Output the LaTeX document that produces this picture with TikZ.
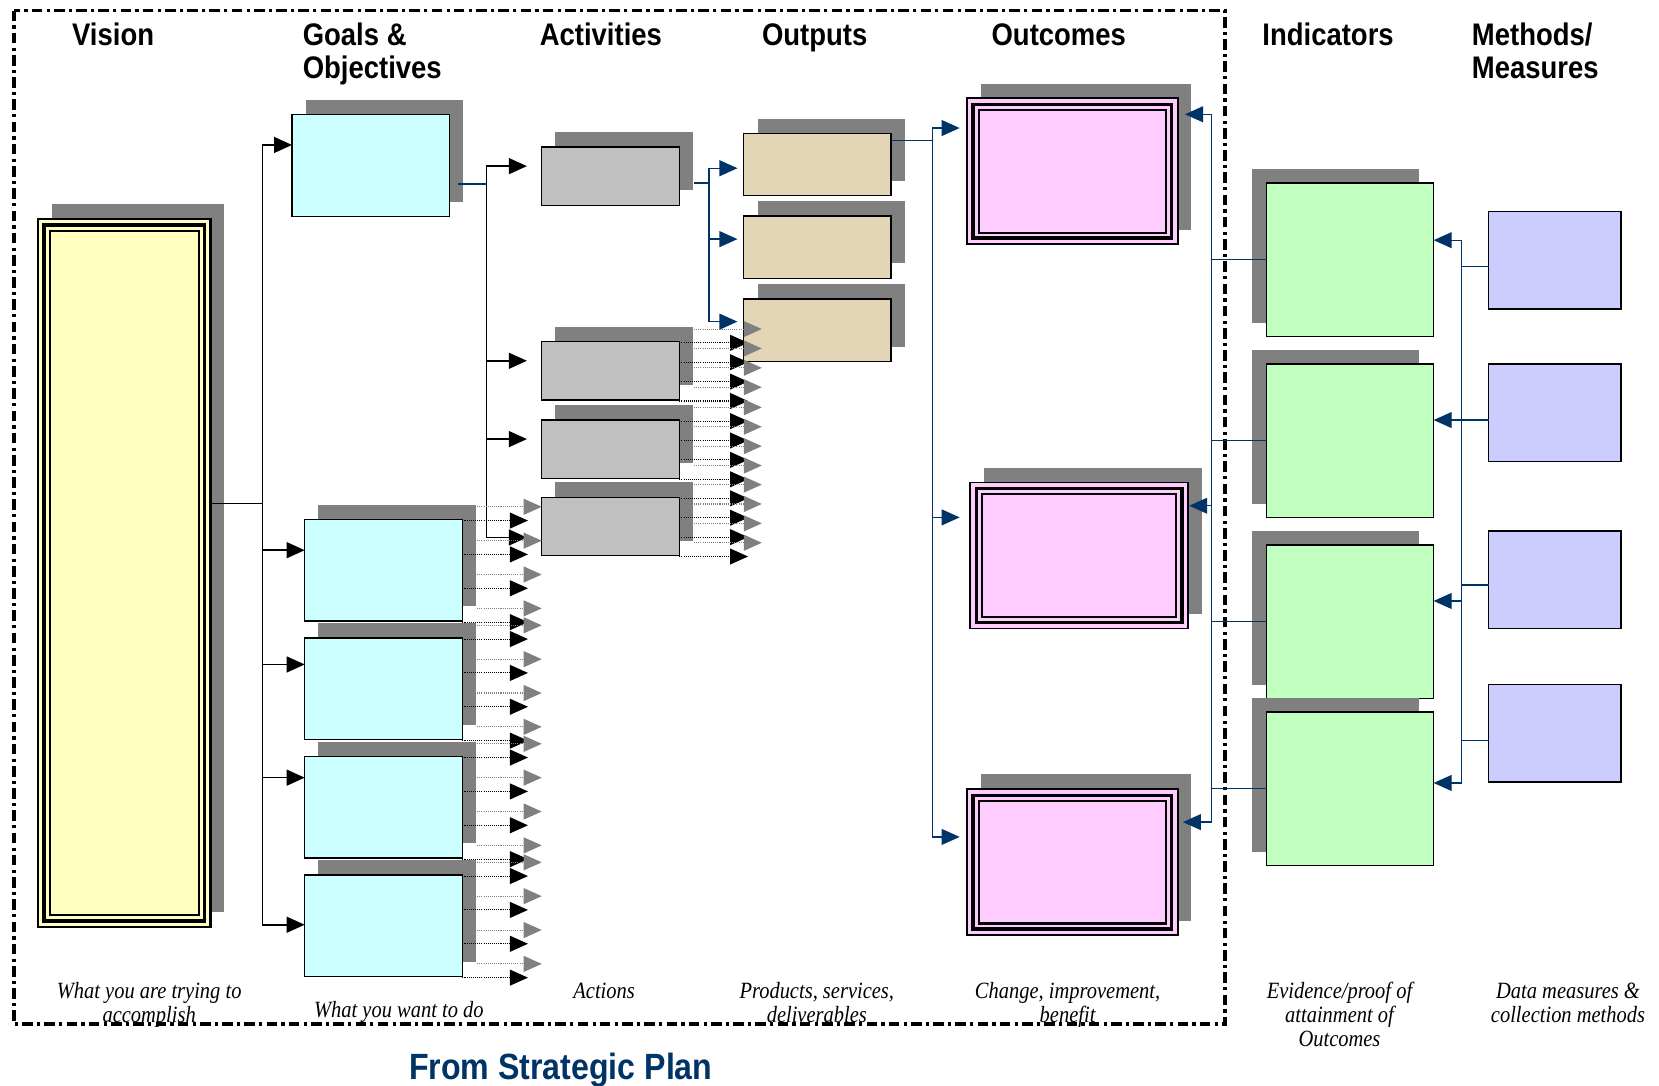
\documentclass[tikz,border=0pt]{standalone}
\usepackage{fontspec}
\setmainfont{Liberation Serif}
\newfontfamily\headfont[FakeStretch=0.88]{Liberation Sans}
\newfontfamily\notefont[FakeStretch=0.88]{Liberation Serif}
\usetikzlibrary{arrows.meta,shadows}
\definecolor{visionfill}{RGB}{255,255,192}
\definecolor{goalfill}{RGB}{204,255,255}
\definecolor{actfill}{RGB}{192,192,192}
\definecolor{outfill}{RGB}{226,214,182}
\definecolor{outcomefill}{RGB}{255,204,255}
\definecolor{indfill}{RGB}{192,255,192}
\definecolor{methfill}{RGB}{204,204,255}
\definecolor{shadowgray}{RGB}{128,128,128}
\definecolor{linkblue}{RGB}{0,51,102}
\begin{document}
\begin{tikzpicture}[x=1pt,y=-1pt,>={Triangle[length=17pt,width=15pt]},line join=miter,
  box/.style={draw=black,line width=1.3pt,inner sep=0pt,outer sep=0pt},
  rshadow/.style={general shadow={fill=shadowgray,shadow xshift=13pt,shadow yshift=14pt}},
  lshadow/.style={general shadow={fill=shadowgray,shadow xshift=-14pt,shadow yshift=13pt}},
  visionbox/.style={box,rshadow,fill=visionfill,line width=2.2pt,minimum width=163pt,minimum height=669pt},
  goalbox/.style={box,rshadow,fill=goalfill,minimum width=149pt,minimum height=96pt},
  actbox/.style={box,rshadow,fill=actfill,minimum width=130pt,minimum height=55pt},
  outbox/.style={box,rshadow,fill=outfill,minimum width=139pt,minimum height=59pt},
  outcomebox/.style={box,rshadow,fill=outcomefill,line width=1.8pt,minimum width=#1,minimum height=138pt},
  indbox/.style={box,lshadow,fill=indfill,minimum width=158pt,minimum height=145pt},
  methbox/.style={box,fill=methfill,minimum width=125pt,minimum height=92pt},
  link/.style={draw=black,line width=1.5pt},
  bluelink/.style={draw=linkblue,line width=1.2pt},
  stub/.style={draw=black,line width=1pt,dash pattern=on 1pt off 1pt},
  stubshade/.style={draw=shadowgray,line width=1pt,dash pattern=on 1pt off 1pt},
  head/.style={font=\headfont\bfseries\fontsize{29.5}{31}\selectfont,inner sep=0pt,anchor=base west,align=left},
  note/.style={font=\notefont\itshape\fontsize{22}{22.5}\selectfont,inner sep=0pt,anchor=base,align=center},
  planframe/.style={line width=3.5pt,dash pattern=on 10pt off 4pt on 3pt off 4pt}]
\useasboundingbox (0,0) rectangle (1568,1026);
%%
  % Frame: strategic plan
  \draw[planframe] (13,10) rectangle (1158,968);
  % Node: Vision
  \node[visionbox] (vis) at (117.5,541.5) {};
  % Node: Goals
  \node[goalbox] (g1) at (350.5,156.5) {};
  \foreach \n/\y in {g2/539,g3/651,g4/763,g5/875}
    \node[goalbox] (\n) at (362.5,\y) {};
  % Node: Activities
  \foreach \n/\y in {a1/166.5,a2/350.5,a3/424.5,a4/497.5}
    \node[actbox] (\n) at (577,\y) {};
  % Node: Outputs
  \foreach \n/\y in {o1/155.5,o2/233.5,o3/312}
    \node[outbox] (\n) at (772.5,\y) {};
  % Node: Outcomes
  \node[outcomebox=199pt] (oc1) at (1013.5,162) {};
  \node[outcomebox=206pt] (oc2) at (1020,525) {};
  \node[outcomebox=199pt] (oc3) at (1013.5,815) {};
  \foreach \n in {vis,oc1,oc2,oc3}{
    \draw[line width=3.4pt] ([shift={(5.8,5.8)}]\n.north west) rectangle ([shift={(-5.8,-5.8)}]\n.south east);
    \draw[line width=2pt] ([shift={(11.2,11.2)}]\n.north west) rectangle ([shift={(-11.2,-11.2)}]\n.south east);
  }
  % Node: Indicators
  \foreach \n/\y in {i1/245.5,i2/416.5,i3/587.5,i4/745.5}
    \node[indbox] (\n) at (1276,\y) {};
  % Node: Methods
  \foreach \n/\y in {m1/246,m2/390,m3/548,m4/693}
    \node[methbox] (\n) at (1469.5,\y) {};
%%
  % Edge: Vision -> Goals
  \coordinate (vj) at (248,476);
  \draw[link] (vis.east |- vj) -- (vj);
  \foreach \g/\y in {g1/137,g2/520,g3/628,g4/735,g5/874}
    \draw[link,->] (vj) |- (\g.west |- 0,\y);
  % Edge: Goal -> Activities
  \coordinate (gj) at (460,174);
  \draw[bluelink] ([xshift=8pt]g1.east |- gj) -- (gj);
  \foreach \a/\y in {a1/157,a2/341,a3/415,a4/508}
    \draw[link,->,shorten >=14pt] (gj) |- (\a.west |- 0,\y);
  % Edge: Activity -> Outputs
  \coordinate (aj) at (670,173);
  \draw[bluelink] ([xshift=14pt]a1.east |- aj) -- (aj);
  \foreach \o/\y in {o1/159,o2/226,o3/304}
    \draw[bluelink,->,shorten >=6pt] (aj) |- (\o.west |- 0,\y);
  % Edge: Output -> Outcomes
  \coordinate (oj) at (881,133);
  \draw[bluelink] (o1.east |- oj) -- (oj);
  \foreach \c/\y/\s in {oc1/121/7,oc2/489/10,oc3/791/7}
    \draw[bluelink,->,shorten >=\s pt] (oj) |- (\c.west |- 0,\y);
  % Edge: Indicators -> Outcomes
  \coordinate (ij) at (1145,0);
  \draw[bluelink] (i1.west) -| (ij |- i4.west) -- (i4.west);
  \draw[bluelink] (i2.west) -- (ij |- i2.west);
  \draw[bluelink] (i3.west) -- (ij |- i3.west);
  \draw[bluelink,->,shorten >=7pt] (ij |- i1.west) |- (oc1.east |- 0,108);
  \draw[bluelink,->,shorten >=1pt] (ij |- i2.west) |- (oc2.east |- 0,478);
  \draw[bluelink,->,shorten >=5pt] (ij |- i4.west) |- (oc3.east |- 0,777);
  % Edge: Methods -> Indicators
  \coordinate (mj) at (1381,0);
  \foreach \m/\y in {m1/252,m2/397,m3/553,m4/700}
    \draw[bluelink] (\m.west |- 0,\y) -- (mj |- 0,\y);
  \foreach \i/\y in {i1/227,i2/397,i3/568,i4/740}
    \draw[bluelink,->] (mj |- 0,252) |- (\i.east |- 0,\y);
  % Edge: stubs from goals and activities
  \foreach \bx/\h/\len in {g2/32/62,g3/32/62,g4/32/62,g5/32/62,a2/18.33/65,a3/18.33/65,a4/18.33/65}{
    \foreach \k in {0,...,3}{
      \pgfmathsetlengthmacro\dy{-(1+\h*\k)*1pt}
      \pgfmathsetlengthmacro\sy{(12-\h*\k)*1pt}
      \draw[stubshade,->] ([xshift=14pt,yshift=\sy]\bx.north east) -- ++(\len-1,0);
      \draw[stub,->] ([yshift=\dy]\bx.north east) -- ++(\len,0);
    }
  }
%%
  % Text: column heads
  \node[head] (hvision) at (68,43) {Vision};
  \node[head] (hgoals) at (286,74) {Goals \&\\Objectives};
  \node[head] (hact) at (510,43) {Activities};
  \node[head] (hout) at (720,43) {Outputs};
  \node[head] (houtcome) at (937,43) {Outcomes};
  \node[head] (hind) at (1193,43) {Indicators};
  \node[head] (hmeth) at (1391,74) {Methods/\\Measures};
  % Text: column notes
  \node[note] (nvision) at (141,966.5) {What you are trying to\\accomplish};
  \node[note] (ngoals) at (377,962) {What you want to do};
  \node[note] (nact) at (571,944) {Actions};
  \node[note] (nout) at (772,966.5) {Products, services,\\deliverables};
  \node[note] (noutcome) at (1009,966.5) {Change, improvement,\\benefit};
  \node[note] (nind) at (1266,989) {Evidence/proof of\\attainment of\\Outcomes};
  \node[note] (nmeth) at (1482,966.5) {Data measures \&\\collection methods};
  \node[font=\headfont\bfseries\fontsize{34.5}{36}\selectfont,text=linkblue,inner sep=0pt,anchor=base] (nplan) at (530,1020) {From Strategic Plan};
%
\end{tikzpicture}
\end{document}
